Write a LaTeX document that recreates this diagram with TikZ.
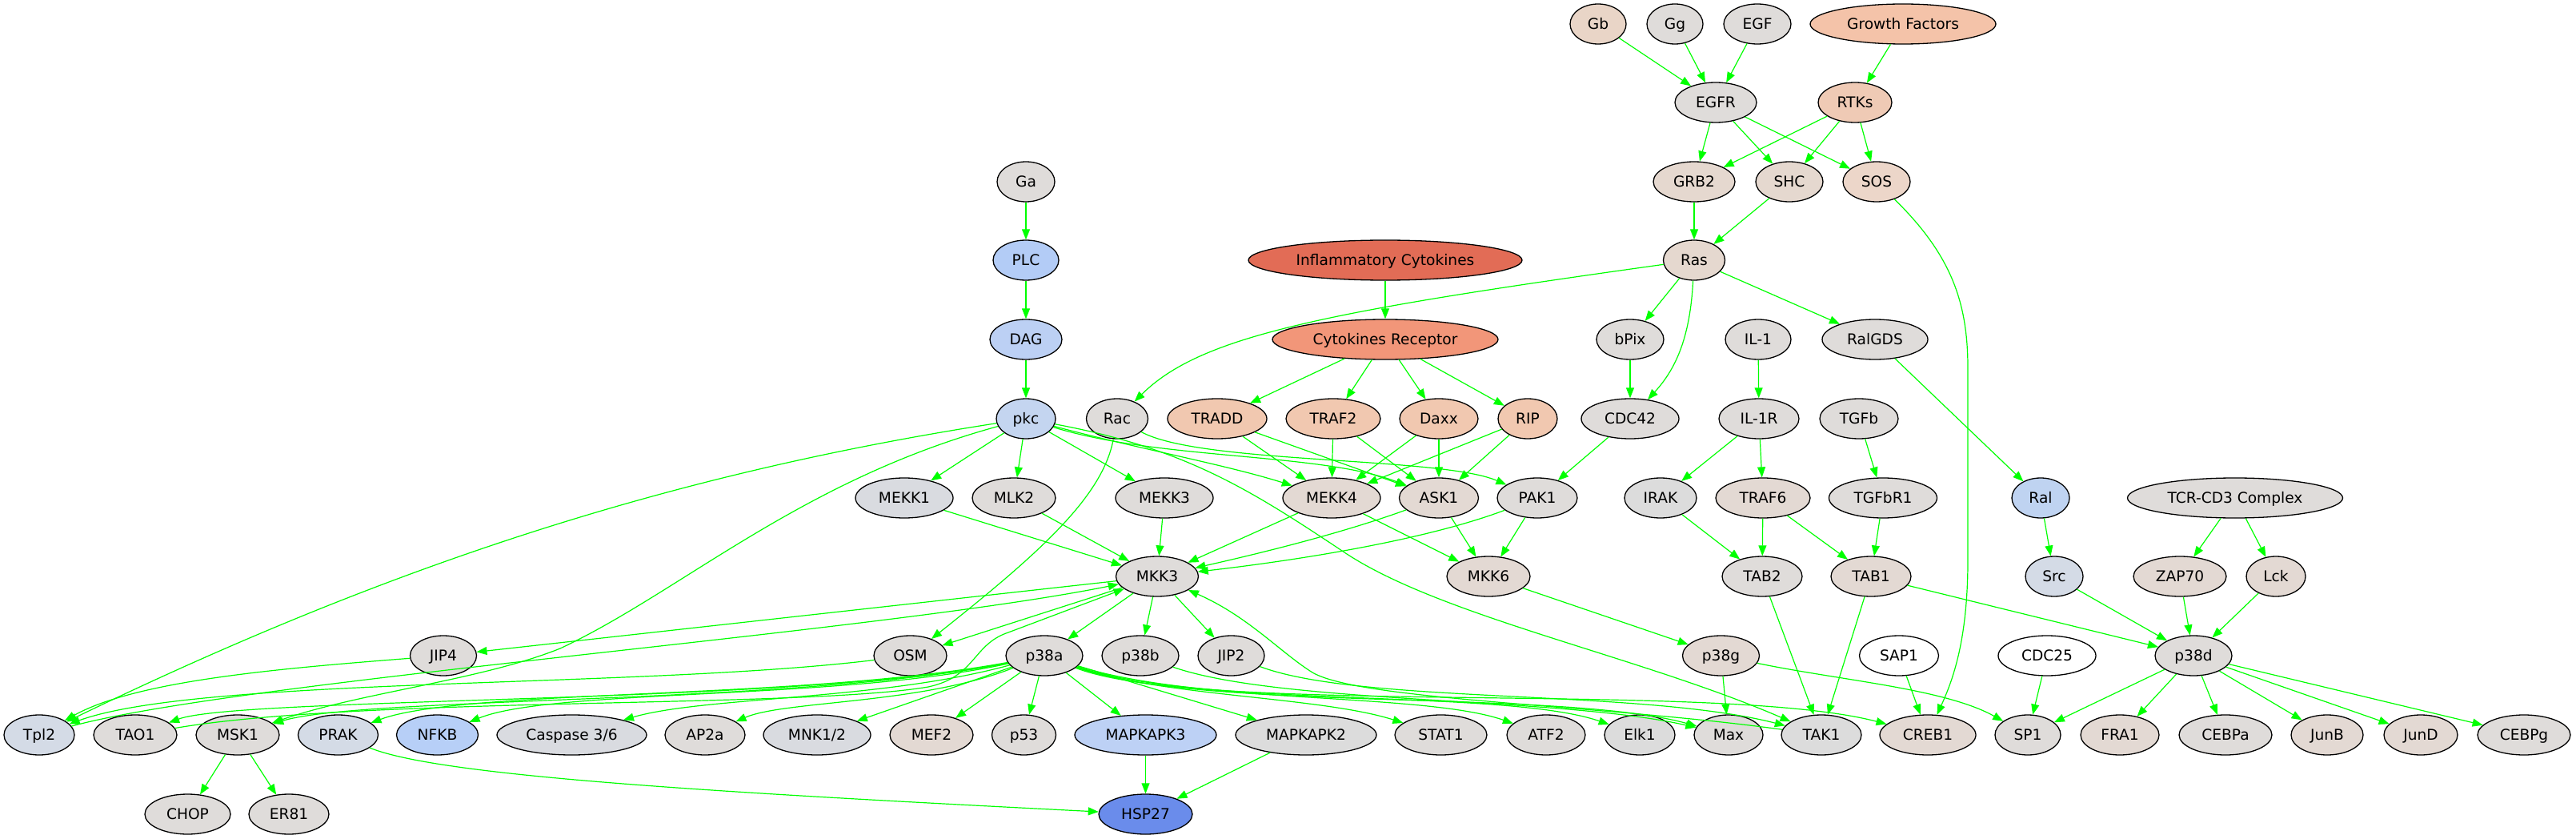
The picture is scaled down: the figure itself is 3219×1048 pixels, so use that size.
\documentclass[tikz,border=0pt]{standalone}
\usepackage{fontspec}
\setmainfont{DejaVu Sans}
\usetikzlibrary{shapes.geometric,arrows.meta}
\definecolor{eg}{RGB}{0,255,0}
\definecolor{cg}{HTML}{DFDCDA}
\definecolor{cn}{HTML}{DCDCDC}
\definecolor{cgw}{HTML}{E3D9D3}
\definecolor{cgb}{HTML}{D9DBE0}
\definecolor{cbg}{HTML}{D4DBE6}
\definecolor{cpe}{HTML}{F1C8B0}
\definecolor{cpeb}{HTML}{E9D5C7}
\definecolor{cgf}{HTML}{F4C3A9}
\definecolor{crtk}{HTML}{EFCAB5}
\definecolor{csos}{HTML}{ECD6C9}
\definecolor{cgrb}{HTML}{E5D8CF}
\definecolor{cic}{HTML}{E26C56}
\definecolor{ccr}{HTML}{F29679}
\definecolor{cplc}{HTML}{B3CCF6}
\definecolor{cdag}{HTML}{BCD0F4}
\definecolor{cpkc}{HTML}{C4D5F0}
\definecolor{cral}{HTML}{BFD3F1}
\definecolor{cnfkb}{HTML}{B7CFF7}
\definecolor{cmkt}{HTML}{BDD1F5}
\definecolor{chsp}{HTML}{6A8CEB}
\newcommand\mknode[6]{\node[nd,minimum width=#4pt,fill=#5] (#1) at (#2,#3) {#6};}
\begin{document}
\begin{tikzpicture}[x=0.5pt,y=-0.5pt,
  nd/.style={ellipse,draw=black,line width=0.65pt,inner sep=0pt,minimum height=25pt,
    text height=6.7pt,text depth=0pt,font=\fontsize{9.3}{11}\selectfont},
  e/.style={draw=eg,line width=0.6pt,-{Triangle[length=6.5pt,width=5pt]}}]
\fill[white] (0,0) rectangle (3219,1048);
\useasboundingbox (0,0) rectangle (3219,1048);
% row 1
\mknode{Gb}{1997}{30}{35}{cpeb}{Gb}
\mknode{Gg}{2093}{30}{35}{cg}{Gg}
\mknode{EGF}{2196}{30}{42}{cg}{EGF}
\mknode{GF}{2378}{30}{116}{cgf}{Growth Factors}
% row 2
\mknode{EGFR}{2144}{128}{51}{cg}{EGFR}
\mknode{RTKs}{2318}{128}{46}{crtk}{RTKs}
% row 3
\mknode{Ga}{1282}{227}{36}{cg}{Ga}
\mknode{GRB}{2117}{227}{51}{cgrb}{GRB2}
\mknode{SHC}{2236}{227}{42}{cgrb}{SHC}
\mknode{SOS}{2345}{227}{42}{csos}{SOS}
% row 4
\mknode{PLC}{1282}{325}{41}{cplc}{PLC}
\mknode{IC}{1731}{325}{171}{cic}{Inflammatory Cytokines}
\mknode{Ras}{2117}{325}{38.5}{cgrb}{Ras}
% row 5
\mknode{DAG}{1282}{424}{45}{cdag}{DAG}
\mknode{CR}{1731}{424}{141}{ccr}{Cytokines Receptor}
\mknode{bPix}{2037}{424}{42}{cg}{bPix}
\mknode{ILa}{2197}{424}{41}{cg}{IL-1}
\mknode{RalGDS}{2343}{424}{66}{cg}{RalGDS}
% row 6
\mknode{pkc}{1282}{523}{37}{cpkc}{pkc}
\mknode{Rac}{1396}{523}{38.5}{cg}{Rac}
\mknode{TRADD}{1521}{523}{62}{cpe}{TRADD}
\mknode{TRAFb}{1666}{523}{59}{cpe}{TRAF2}
\mknode{Daxx}{1798}{523}{49}{cpe}{Daxx}
\mknode{RIP}{1909}{523}{37}{cpe}{RIP}
\mknode{CDC}{2037}{523}{61}{cg}{CDC42}
\mknode{ILR}{2198}{523}{50}{cg}{IL-1R}
\mknode{TGFb}{2323}{523}{49}{cg}{TGFb}
% row 7
\mknode{MEKKa}{1130}{622}{61}{cgb}{MEKK1}
\mknode{MLK}{1267}{622}{52}{cg}{MLK2}
\mknode{MEKKc}{1455}{622}{61}{cg}{MEKK3}
\mknode{MEKKd}{1664}{622}{61}{cgw}{MEKK4}
\mknode{ASK}{1798}{622}{49.5}{cgw}{ASK1}
\mknode{PAK}{1921}{622}{50}{cg}{PAK1}
\mknode{IRAK}{2075}{622}{45}{cn}{IRAK}
\mknode{TRAFf}{2203}{622}{59}{cgw}{TRAF6}
\mknode{TGFbR}{2353}{622}{67.5}{cg}{TGFbR1}
\mknode{Ral}{2550}{622}{36}{cral}{Ral}
\mknode{TCR}{2793}{622}{134.5}{cg}{TCR-CD3 Complex}
% row 8
\mknode{MKKc}{1446}{720}{51.5}{cg}{MKK3}
\mknode{MKKf}{1860}{720}{52}{cgw}{MKK6}
\mknode{TABb}{2202}{720}{50}{cg}{TAB2}
\mknode{TABa}{2338}{720}{50}{cgw}{TAB1}
\mknode{Src}{2567}{720}{36}{cbg}{Src}
\mknode{ZAP}{2724}{720}{58}{cgw}{ZAP70}
\mknode{Lck}{2844}{720}{37}{cgw}{Lck}
% row 9
\mknode{JIPd}{554}{819}{41.5}{cg}{JIP4}
\mknode{OSM}{1137.5}{819}{45.5}{cg}{OSM}
\mknode{pa}{1305}{819}{48}{cg}{p38a}
\mknode{pb}{1425}{819}{48}{cg}{p38b}
\mknode{JIPb}{1538.5}{819}{41.5}{cg}{JIP2}
\mknode{pg}{2150.5}{819}{48}{cgw}{p38g}
\mknode{SAP}{2373}{819}{49.5}{white}{SAP1}
\mknode{CDCt}{2558}{819}{61}{white}{CDC25}
\mknode{pd}{2741}{819}{48}{cg}{p38d}
% row 10
\mknode{Tpl}{49}{918}{44}{cbg}{Tpl2}
\mknode{TAO}{169}{918}{52}{cg}{TAO1}
\mknode{MSK}{297}{918}{52}{cg}{MSK1}
\mknode{PRAK}{422.5}{918}{50}{cbg}{PRAK}
\mknode{NFKB}{546.5}{918}{51}{cnfkb}{NFKB}
\mknode{Casp}{714.5}{918}{93.5}{cgb}{Caspase 3/6}
\mknode{AP}{881}{918}{50}{cg}{AP2a}
\mknode{MNK}{1021}{918}{67}{cgb}{MNK1/2}
\mknode{MEF}{1164}{918}{52}{cgw}{MEF2}
\mknode{pft}{1279.5}{918}{40}{cg}{p53}
\mknode{MKa}{1431.5}{918}{88.5}{cmkt}{MAPKAPK3}
\mknode{MKb}{1632}{918}{88}{cn}{MAPKAPK2}
\mknode{STAT}{1800.5}{918}{57.5}{cg}{STAT1}
\mknode{ATF}{1932}{918}{49}{cg}{ATF2}
\mknode{Elk}{2049}{918}{44}{cn}{Elk1}
\mknode{Max}{2160}{918}{43}{cg}{Max}
\mknode{TAK}{2276}{918}{50}{cn}{TAK1}
\mknode{CREB}{2409}{918}{60}{cgw}{CREB1}
\mknode{SP}{2534}{918}{41}{cg}{SP1}
\mknode{FRA}{2649}{918}{49}{cgw}{FRA1}
\mknode{CEBPa}{2781}{918}{58}{cg}{CEBPa}
\mknode{JunB}{2908}{918}{45}{cgw}{JunB}
\mknode{JunD}{3025}{918}{46}{cgw}{JunD}
\mknode{CEBPg}{3154}{918}{58}{cg}{CEBPg}
% row 11
\mknode{CHOP}{234.5}{1017}{53.5}{cg}{CHOP}
\mknode{ER}{361}{1017}{50}{cg}{ER81}
\mknode{HSP}{1431.5}{1017}{58.5}{chsp}{HSP27}
% straight edges
\foreach \a/\b in {Gb/EGFR, Gg/EGFR, EGF/EGFR, GF/RTKs, EGFR/GRB, EGFR/SHC, EGFR/SOS,
  RTKs/GRB, RTKs/SHC, RTKs/SOS, GRB/Ras, SHC/Ras, Ras/bPix, Ras/RalGDS, Ga/PLC, PLC/DAG,
  DAG/pkc, IC/CR, CR/TRADD, CR/TRAFb, CR/Daxx, CR/RIP, bPix/CDC, ILa/ILR, RalGDS/Ral,
  TGFb/TGFbR, ILR/IRAK, ILR/TRAFf, CDC/PAK, pkc/MEKKa, pkc/MLK, pkc/MEKKc,
  TRADD/MEKKd, TRAFb/MEKKd, Daxx/MEKKd, RIP/MEKKd, TRADD/ASK, TRAFb/ASK, Daxx/ASK, RIP/ASK,
  MEKKa/MKKc, MLK/MKKc, MEKKc/MKKc, MEKKd/MKKc, MEKKd/MKKf, ASK/MKKf, PAK/MKKf,
  IRAK/TABb, TRAFf/TABb, TRAFf/TABa, TGFbR/TABa, Ral/Src, TCR/ZAP, TCR/Lck,
  MKKc/pa, MKKc/pb, MKKc/JIPb, MKKc/JIPd, MKKc/OSM, MKKf/pg, TABb/TAK, TABa/TAK, TABa/pd,
  Src/pd, ZAP/pd, Lck/pd, pg/Max, SAP/CREB, CDCt/SP, pd/SP, pd/FRA, pd/CEBPa, pd/JunB,
  pd/JunD, pd/CEBPg, MSK/CHOP, MSK/ER, MKa/HSP, MKb/HSP, pa/MEF, pa/pft, pa/MKa, pa/MKb, pa/MNK}
  \draw[e] (\a) -- (\b);
% curved edges
\draw[e] (Ras) .. controls (1650,390) and (1500,420) .. (Rac);
\draw[e] (Ras) .. controls (2112,420) and (2095,460) .. (CDC);
\draw[e] (SOS) .. controls (2440,320) and (2459,380) .. (2459,460) -- (2459,700) .. controls (2459,800) and (2440,850) .. (CREB);
\draw[e] (pkc) .. controls (850,590) and (500,700) .. (Tpl);
\draw[e] (pkc) .. controls (1000,600) and (850,740) .. (700,810) .. controls (600,850) and (450,865) .. (MSK);
\draw[e] (pkc) .. controls (1480,560) and (1560,610) .. (1680,690) .. controls (1800,770) and (2050,820) .. (TAK);
\draw[e] (pkc) .. controls (1420,560) and (1530,580) .. (MEKKd);
\draw[e] (pkc) .. controls (1450,575) and (1650,565) .. (ASK);
\draw[e] (Rac) .. controls (1500,580) and (1800,570) .. (PAK);
\draw[e] (ASK) .. controls (1680,665) and (1580,690) .. (MKKc);
\draw[e] (PAK) .. controls (1780,675) and (1620,700) .. (MKKc);
\draw[e] (Rac) .. controls (1378,620) and (1300,690) .. (OSM);
\draw[e] (Tpl) .. controls (300,850) and (1100,790) .. (MKKc);
\draw[e] (JIPd) .. controls (350,835) and (170,850) .. (Tpl);
\draw[e] (OSM) .. controls (800,860) and (250,845) .. (Tpl);
\draw[e] (TAO) .. controls (450,870) and (1000,885) .. (1160,858) .. controls (1220,845) and (1215,805) .. (1260,790) -- (MKKc);
\draw[e] (pa) .. controls (1000,880) and (300,870) .. (TAO);
\draw[e] (pa) .. controls (1000,880) and (450,870) .. (MSK);
\draw[e] (pa) .. controls (1000,875) and (580,860) .. (PRAK);
\draw[e] (pa) .. controls (1050,875) and (690,860) .. (NFKB);
\draw[e] (pa) .. controls (1100,875) and (880,870) .. (Casp);
\draw[e] (pa) .. controls (1150,880) and (980,875) .. (AP);
\draw[e] (pa) .. controls (1450,870) and (1650,870) .. (STAT);
\draw[e] (pa) .. controls (1500,880) and (1780,865) .. (ATF);
\draw[e] (pa) .. controls (1500,885) and (1880,860) .. (Elk);
\draw[e] (pa) .. controls (1500,890) and (1950,860) .. (Max);
\draw[e] (pa) .. controls (1500,895) and (2150,850) .. (CREB);
\draw[e] (pb) .. controls (1600,880) and (1950,870) .. (Max);
\draw[e] (JIPb) .. controls (1700,880) and (2050,860) .. (TAK);
\draw[e] (TAK) .. controls (2000,880) and (1700,875) .. (1640,840) .. controls (1600,815) and (1560,770) .. (MKKc);
\draw[e] (pg) .. controls (2300,850) and (2430,860) .. (SP);
\draw[e] (PRAK) .. controls (550,970) and (900,990) .. (HSP);
\end{tikzpicture}
\end{document}
